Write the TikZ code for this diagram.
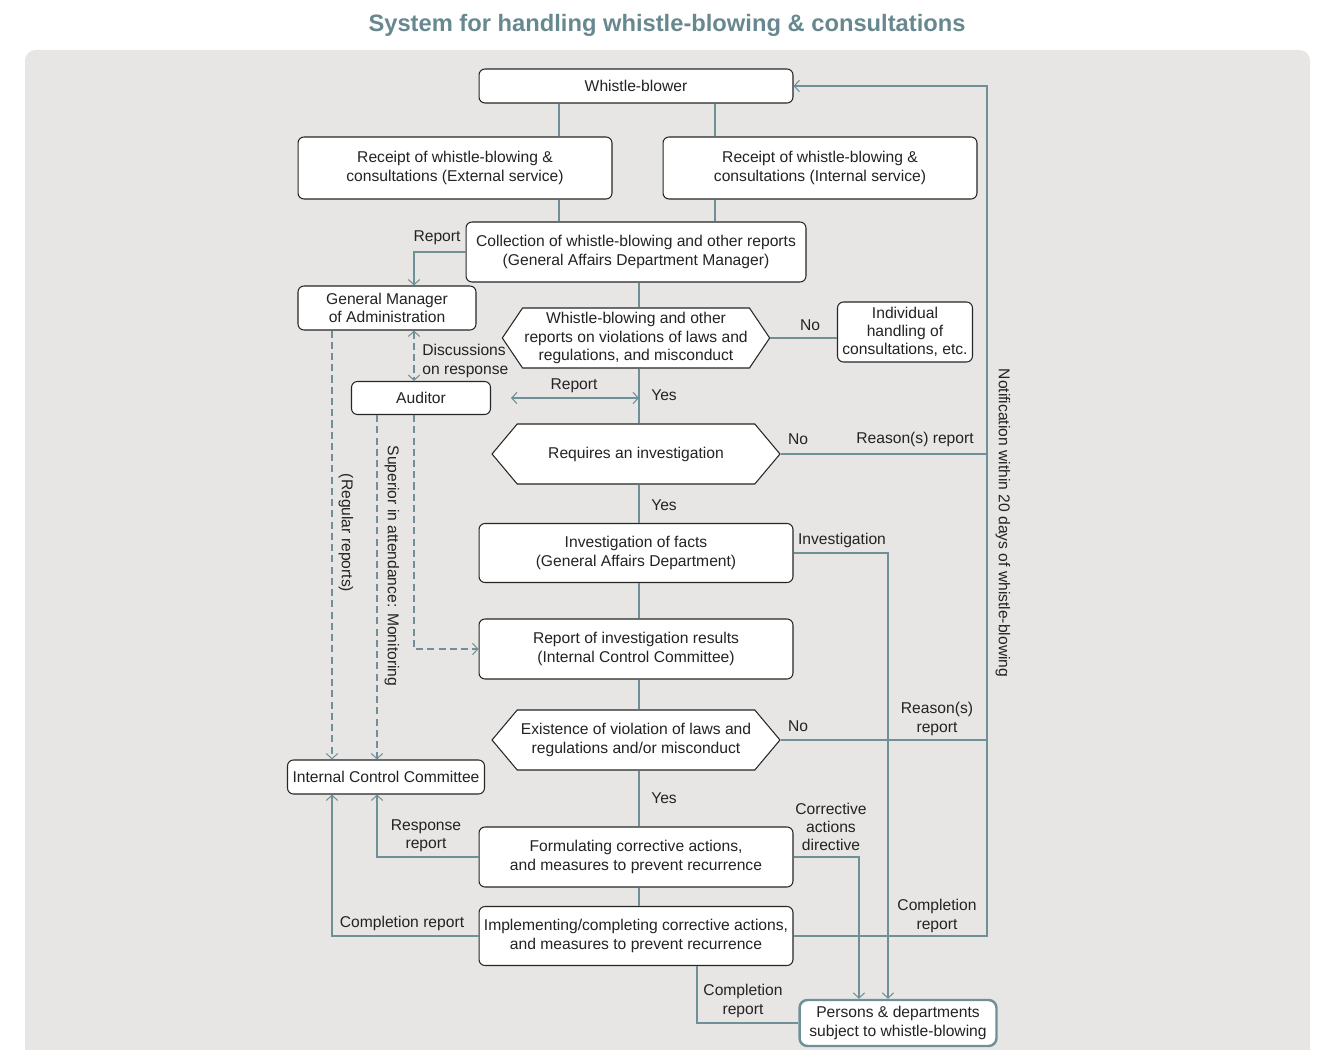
\documentclass[tikz,border=0pt]{standalone}
\usepackage{fontspec}
\setmainfont{Liberation Sans}
\usetikzlibrary{arrows.meta,shapes.symbols,positioning}

\definecolor{flowline}{RGB}{112,144,152}
\definecolor{panelgray}{RGB}{231,230,228}
\definecolor{titleblue}{RGB}{104,136,143}
\definecolor{inktext}{RGB}{35,35,35}

\begin{document}
\begin{tikzpicture}[
	x=0.02cm, y=-0.02cm, % one unit per pixel
	box/.style={
		draw=black!85, fill=white, line width=0.6pt,
		rounded corners=3.4pt, align=center, inner sep=1pt,
		text=inktext, font=\fontsize{8.9}{10.3}\selectfont
	},
	decision/.style={
		shape=signal, signal to=west and east, signal pointer angle=#1,
		draw=black!85, fill=white, line width=0.6pt,
		align=center, inner sep=1pt,
		text=inktext, font=\fontsize{8.9}{10.3}\selectfont
	},
	target/.style={
		box, draw=flowline, line width=1.4pt, rounded corners=4.5pt
	},
	lbl/.style={
		text=inktext, font=\fontsize{8.9}{10.3}\selectfont, align=center, inner sep=0pt
	},
	link/.style={draw=flowline, line width=0.6pt},
	arr/.style={link, ->, >={Straight Barb[length=3pt,width=6.5pt]}},
	dashlink/.style={arr, dash pattern=on 4pt off 2.4pt}
	]
	% Frame and title
	\clip (0,0) rectangle (1319,1050);
	\fill[panelgray, rounded corners=6pt] (25,50) rectangle (1310,1090);
	\node[font=\bfseries\fontsize{13.5}{16}\selectfont, text=titleblue] (title) at (667,25)
		{System for handling whistle-blowing \& consultations};
	
	% Main column
	\node[box, minimum width=6.28cm, minimum height=0.68cm] (blower) at (636,86) {Whistle-blower};
	\node[box, minimum width=6.28cm, minimum height=1.24cm] (recext) at (455,168)
		{Receipt of whistle-blowing \&\\consultations (External service)};
	\node[box, minimum width=6.28cm, minimum height=1.24cm] (recint) at (820,168)
		{Receipt of whistle-blowing \&\\consultations (Internal service)};
	\node[box, minimum width=6.8cm, minimum height=1.2cm] (collect) at (636,252)
		{Collection of whistle-blowing and other reports\\(General Affairs Department Manager)};
	\node[decision=112, minimum width=5.28cm, minimum height=1.2cm] (dec1) at (636,338)
		{Whistle-blowing and other\\reports on violations of laws and\\regulations, and misconduct};
	\node[decision=100, minimum width=5.76cm, minimum height=1.2cm] (dec2) at (636,454)
		{Requires an investigation};
	\node[box, minimum width=6.28cm, minimum height=1.18cm] (invest) at (636,553)
		{Investigation of facts\\(General Affairs Department)};
	\node[box, minimum width=6.28cm, minimum height=1.2cm] (results) at (636,649)
		{Report of investigation results\\(Internal Control Committee)};
	\node[decision=100, minimum width=5.76cm, minimum height=1.2cm] (dec3) at (636,740)
		{Existence of violation of laws and\\regulations and/or misconduct};
	\node[box, minimum width=6.28cm, minimum height=1.2cm] (formulate) at (636,857)
		{Formulating corrective actions,\\and measures to prevent recurrence};
	\node[box, minimum width=6.28cm, minimum height=1.18cm] (implement) at (636,936)
		{Implementing/completing corrective actions,\\and measures to prevent recurrence};
	
	% Side boxes
	\node[box, minimum width=3.56cm, minimum height=0.88cm] (gm) at (387,308)
		{General Manager\\of Administration};
	\node[box, minimum width=2.78cm, minimum height=0.66cm] (auditor) at (421,398) {Auditor};
	\node[box, minimum width=3.94cm, minimum height=0.68cm] (icc) at (386,777)
		{Internal Control Committee};
	\node[box, minimum width=2.7cm, minimum height=1.2cm] (indiv) at (905,332)
		{Individual\\handling of\\consultations, etc.};
	\node[target, minimum width=3.94cm, minimum height=0.92cm] (persons) at (898,1023)
		{Persons \& departments\\subject to whistle-blowing};
	
	% Rails for the vertical runs
	\coordinate (railA) at (559,0);
	\coordinate (railB) at (715,0);
	\coordinate (railMain) at (639,0);
	\coordinate (railGM) at (414,0);
	\coordinate (railL) at (332,0);
	\coordinate (railM) at (377,0);
	\coordinate (railC) at (697,0);
	\coordinate (railCor) at (859,0);
	\coordinate (railInv) at (888,0);
	\coordinate (railN) at (987,0);
	
	% Main flow
	\draw[link] (blower.south -| railA) -- (recext.north -| railA);
	\draw[link] (blower.south -| railB) -- (recint.north -| railB);
	\draw[link] (recext.south -| railA) -- (collect.north -| railA);
	\draw[link] (recint.south -| railB) -- (collect.north -| railB);
	\draw[link] (collect.south -| railMain) -- (dec1.north -| railMain);
	\draw[link] (dec1.south -| railMain) -- (dec2.north -| railMain);
	\draw[link] (dec2.south -| railMain) -- (invest.north -| railMain);
	\draw[link] (invest.south -| railMain) -- (results.north -| railMain);
	\draw[link] (results.south -| railMain) -- (dec3.north -| railMain);
	\draw[link] (dec3.south -| railMain) -- (formulate.north -| railMain);
	\draw[link] (formulate.south -| railMain) -- (implement.north -| railMain);
	
	\node[lbl] at (664,395) {Yes};
	\node[lbl] at (664,505) {Yes};
	\node[lbl] at (664,798) {Yes};
	
	% Report to the general manager and the auditor
	\draw[arr] (collect.west) -| (gm.north -| railGM);
	\node[lbl] at (437,238) {Report};
	\draw[dashlink, <->] (gm.south -| railGM) -- (auditor.north -| railGM);
	\node[lbl, anchor=west, align=left] at (422,361) {Discussions\\on response};
	\draw[arr, <->] ([xshift=0.4cm]auditor.east) -- (auditor.east -| railMain);
	\node[lbl] at (574,386) {Report};
	
	% Branches to the right
	\draw[link] (dec1.east) -- (dec1.east -| indiv.west);
	\node[lbl] at (810,325) {No};
	\draw[link] (dec2.east) -- (dec2.east -| railN);
	\node[lbl] at (798,439) {No};
	\node[lbl] at (915,439) {Reason(s) report};
	\draw[link] (dec3.east) -- (dec3.east -| railN);
	\node[lbl] at (798,726) {No};
	\node[lbl] at (937,719) {Reason(s)\\report};
	\draw[arr] (implement.east) -- (implement.east -| railN) -- (blower.east -| railN) -- (blower.east);
	\node[lbl] at (937,916) {Completion\\report};
	\node[lbl, rotate=-90] at (1003,523) {Notification within 20 days of whistle-blowing};
	
	% Instructions to the persons concerned
	\draw[arr] (invest.east) -| (persons.north -| railInv);
	\node[lbl] at (842,540) {Investigation};
	\draw[arr] (formulate.east) -| (persons.north -| railCor);
	\node[lbl] at (831,827) {Corrective\\actions\\directive};
	\draw[link] (implement.south -| railC) |- (persons.west);
	\node[lbl] at (743,1001) {Completion\\report};
	
	% Reports to the committee
	\draw[arr] (implement.west) -| (icc.south -| railL);
	\node[lbl] at (402,923) {Completion report};
	\draw[arr] (formulate.west) -| (icc.south -| railM);
	\node[lbl] at (426,836) {Response\\report};
	\draw[dashlink] (gm.south -| railL) -- (icc.north -| railL);
	\node[lbl, rotate=-90] at (346,533) {(Regular reports)};
	\draw[dashlink] (auditor.south -| railM) -- (icc.north -| railM);
	\node[lbl, rotate=-90] at (392,566) {Superior in attendance: Monitoring};
	\draw[dashlink] (auditor.south -| railGM) |- (results.west);
\end{tikzpicture}
\end{document}
